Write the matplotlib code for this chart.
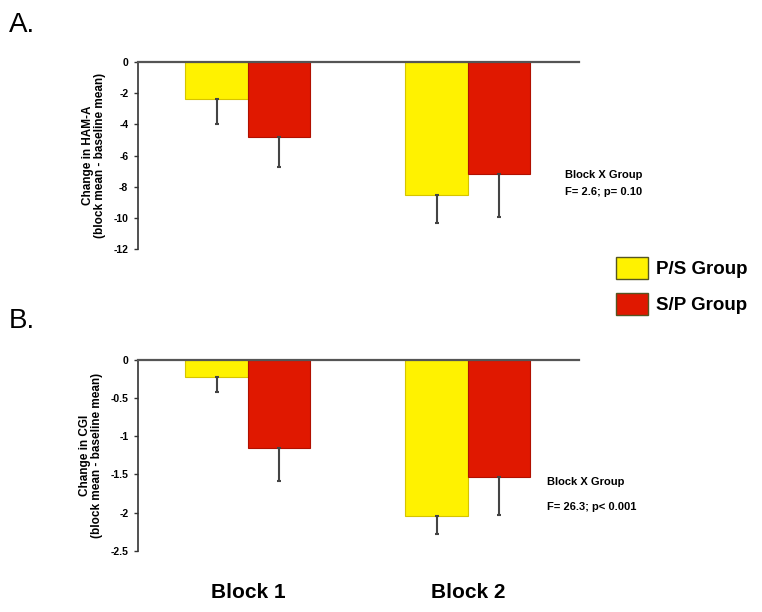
import numpy as np
import matplotlib
matplotlib.use('Agg')
import matplotlib.pyplot as plt
from matplotlib.patches import Patch

plt.rcParams['font.family'] = ['Liberation Sans', 'DejaVu Sans']

blocks = ['Block 1', 'Block 2']
groups = ['P/S Group', 'S/P Group']
colors = ['#fff200', '#e01800']
edges = ['#d6c400', '#b01000']

# panel A: change in HAM-A
ham_mean = {'P/S Group': [-2.4, -8.5], 'S/P Group': [-4.8, -7.2]}
ham_err = {'P/S Group': [1.6, 1.8], 'S/P Group': [1.95, 2.75]}
ham_ticks = [0, -2, -4, -6, -8, -10, -12]

# panel B: change in CGI
cgi_mean = {'P/S Group': [-0.22, -2.04], 'S/P Group': [-1.15, -1.54]}
cgi_err = {'P/S Group': [0.2, 0.24], 'S/P Group': [0.43, 0.49]}
cgi_ticks = [0, -0.5, -1, -1.5, -2, -2.5]

pos = np.array([0, 3.52])

fig = plt.figure(figsize=(7.62, 6.12), dpi=100)
axA = fig.add_axes([0.1811, 0.5927, 0.5787, 0.306])
axB = fig.add_axes([0.1811, 0.1002, 0.5787, 0.3116])


def draw(ax, means, errs, ticks, ylab, tlabels):
    for i, g in enumerate(groups):
        x = pos + (i - 0.5)
        m = np.array(means[g])
        e = np.array(errs[g])
        ax.bar(x, m, width=1.0, color=colors[i], edgecolor=edges[i], linewidth=0.8, zorder=2)
        ax.errorbar(x, m, yerr=[e, np.zeros_like(e)], fmt='none', ecolor='#444444',
                    elinewidth=1.5, capsize=1.5, capthick=1.5, zorder=3)
    ax.axhline(0, color='#555555', lw=1.6, zorder=4, clip_on=False)
    ax.set_xlim(-1.76, 5.3)
    ax.set_ylim(ticks[-1], 0)
    ax.set_yticks(ticks)
    ax.set_yticklabels(tlabels, fontsize=7.5, fontweight='bold')
    ax.set_xticks([])
    for s in ['top', 'right', 'bottom']:
        ax.spines[s].set_visible(False)
    ax.spines['left'].set_color('#333333')
    ax.spines['left'].set_linewidth(1.2)
    ax.tick_params(axis='y', length=3, width=1, color='#333333', pad=4)
    ax.set_ylabel(ylab, fontsize=8.5, fontweight='bold', labelpad=5, linespacing=1.1)


draw(axA, ham_mean, ham_err, ham_ticks,
     'Change in HAM-A\n(block mean - baseline mean)', [str(t) for t in ham_ticks])
draw(axB, cgi_mean, cgi_err, cgi_ticks,
     'Change in CGI\n(block mean - baseline mean)', ['0', '-0.5', '-1', '-1.5', '-2', '-2.5'])

axA.text(565 / 762, 1 - 175 / 612, 'Block X Group', transform=fig.transFigure,
         fontsize=8, fontweight='bold', va='center', ha='left')
axA.text(565 / 762, 1 - 192 / 612, 'F= 2.6; p= 0.10', transform=fig.transFigure,
         fontsize=8, fontweight='bold', va='center', ha='left')
axB.text(547 / 762, 1 - 482 / 612, 'Block X Group', transform=fig.transFigure,
         fontsize=8, fontweight='bold', va='center', ha='left')
axB.text(547 / 762, 1 - 507 / 612, 'F= 26.3; p< 0.001', transform=fig.transFigure,
         fontsize=8, fontweight='bold', va='center', ha='left')

for i, b in enumerate(blocks):
    xf = fig.transFigure.inverted().transform(axB.transData.transform((pos[i], 0)))[0]
    fig.text(xf, 1 - 593 / 612, b, fontsize=15, fontweight='bold', ha='center', va='center')

fig.text(0.012, 1 - 25 / 612, 'A.', fontsize=20, ha='left', va='center')
fig.text(0.012, 1 - 321 / 612, 'B.', fontsize=20, ha='left', va='center')

handles = [Patch(facecolor=colors[i], edgecolor='#555522', linewidth=1) for i in range(2)]
fig.legend(handles, groups, loc='center left', bbox_to_anchor=(616 / 762, 1 - 286 / 612),
           frameon=False, prop={'size': 13.5, 'weight': 'bold'}, borderpad=0, borderaxespad=0,
           handlelength=1.7, handleheight=1.4, handletextpad=0.45, labelspacing=0.75)

fig.savefig('out.png', dpi=100)
